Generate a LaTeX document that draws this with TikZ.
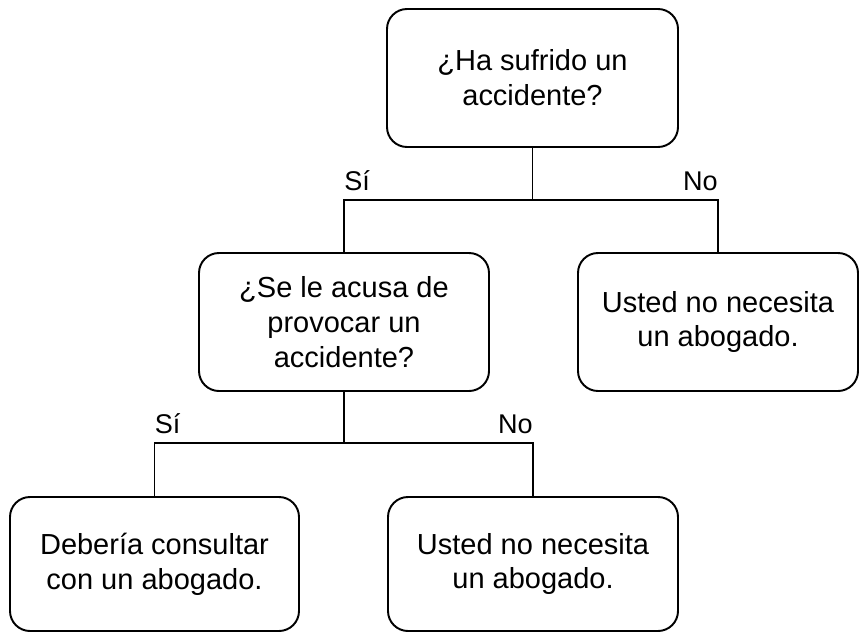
\documentclass[tikz,border=0pt]{standalone}
\usepackage{fontspec}
\setmainfont{Liberation Sans}
\usepackage{tikz}

\begin{document}
\begin{tikzpicture}[scale=1.0,
  box/.style={draw, rounded corners=0.4cm, line width=1.1pt, align=center,
    font=\fontsize{16.5}{19.9}\selectfont, minimum height=2.76cm, inner sep=2pt},
  lbl/.style={font=\fontsize{15.4}{18}\selectfont, inner sep=0pt},
  link/.style={line width=1.1pt}]
\useasboundingbox (0,0) rectangle (17.2,-12.64);

% questions and answers
\node[box, minimum width=5.82cm] (q1) at (10.65,-1.56) {¿Ha sufrido un\\accidente?};
\node[box, minimum width=5.80cm] (q2) at (6.88,-6.44) {¿Se le acusa de\\provocar un\\accidente?};
\node[box, minimum width=5.60cm] (r1) at (14.36,-6.44) {Usted no necesita\\un abogado.};
\node[box, minimum width=5.78cm, minimum height=2.68cm] (r2) at (3.09,-11.28) {Debería consultar\\con un abogado.};
\node[box, minimum width=5.80cm, minimum height=2.68cm] (r3) at (10.66,-11.28) {Usted no necesita\\un abogado.};

% first split
\coordinate (j1) at (q1.south |- 0,-4.0);
\draw[link] (q1.south) -- (j1);
\draw[link] (j1) -| (q2.north);
\draw[link] (j1) -| (r1.north);
\node[lbl, anchor=base west] (si1) at (q2.north |- 0,-3.8) {Sí};
\node[lbl, anchor=base east] (no1) at (r1.north |- 0,-3.8) {No};

% second split
\coordinate (j2) at (q2.south |- 0,-8.86);
\draw[link] (q2.south) -- (j2);
\draw[link] (j2) -| (r2.north);
\draw[link] (j2) -| (r3.north);
\node[lbl, anchor=base west] (si2) at (r2.north |- 0,-8.66) {Sí};
\node[lbl, anchor=base east] (no2) at (r3.north |- 0,-8.66) {No};
\end{tikzpicture}
\end{document}
